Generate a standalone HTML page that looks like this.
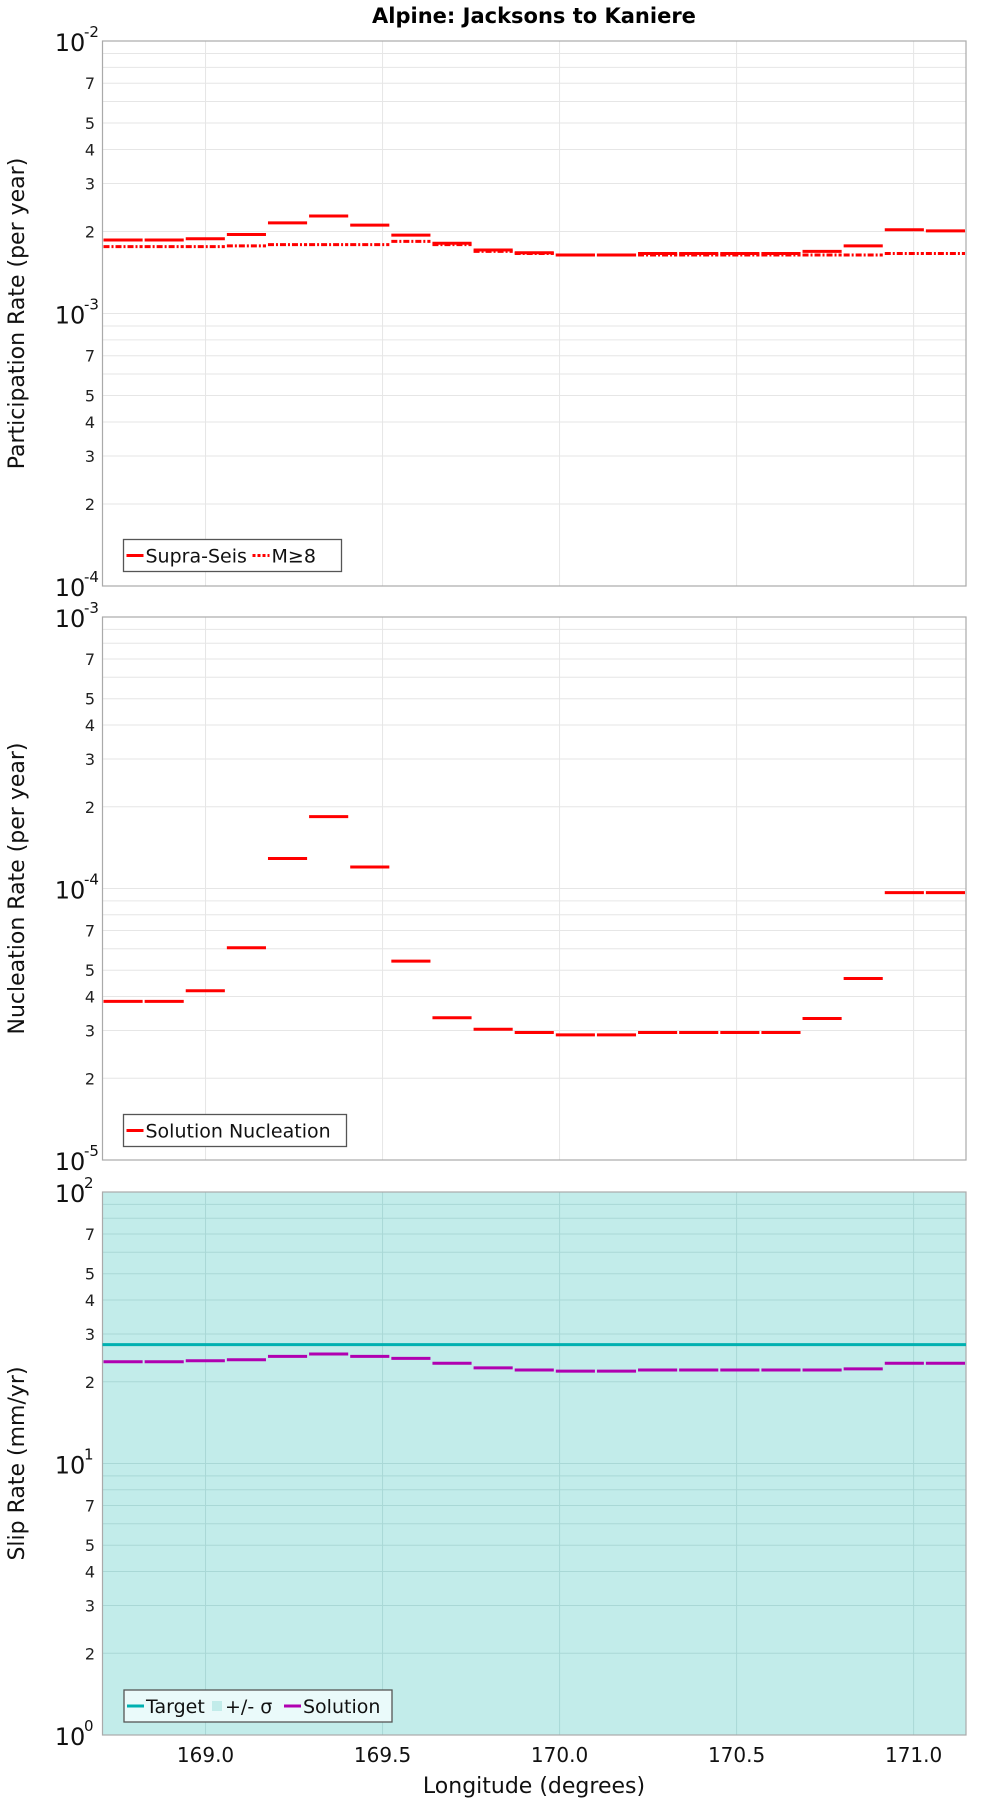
<!DOCTYPE html>
<html><head><meta charset="utf-8"><style>
body{margin:0;background:#fff;}
svg{display:block;font-family:"DejaVu Sans","Liberation Sans",sans-serif;}
</style></head><body>
<svg id="chart" width="1000" height="1800" viewBox="0 0 1000 1800" xmlns="http://www.w3.org/2000/svg">
<text x="534" y="23" text-anchor="middle" font-size="21" font-weight="bold">Alpine: Jacksons to Kaniere</text>
<g id="g"></g>
</svg>
<script>
const xTicks = [169.0, 169.5, 170.0, 170.5, 171.0];
const xTickLabels = ["169.0", "169.5", "170.0", "170.5", "171.0"];
const segCount = 21;
const supraSeis = [1.86,1.86,1.88,1.95,2.15,2.28,2.11,1.94,1.81,1.71,1.67,1.64,1.64,1.66,1.66,1.66,1.66,1.69,1.77,2.03,2.01].map(v=>v*1e-3);
const m8 = [1.76,1.76,1.76,1.77,1.79,1.79,1.79,1.84,1.79,1.69,1.66,1.64,1.64,1.64,1.64,1.64,1.64,1.64,1.64,1.66,1.66].map(v=>v*1e-3);
const nucleation = [3.84,3.84,4.2,6.05,12.9,18.4,12.0,5.4,3.34,3.03,2.95,2.89,2.89,2.95,2.95,2.95,2.95,3.32,4.66,9.66,9.66].map(v=>v*1e-5);
const slipTarget = 27.4;
const slipSolution = [23.7,23.7,23.9,24.1,24.8,25.3,24.8,24.4,23.4,22.5,22.1,21.9,21.9,22.1,22.1,22.1,22.1,22.1,22.3,23.4,23.4];
const minorLabels = [2,3,4,5,7];

const NS="http://www.w3.org/2000/svg";
const g=document.getElementById('g');
const L=102.5,R=966,X0=168.709,X1=171.148;
function sx(v){return L+(v-X0)/(X1-X0)*(R-L);}
function mk(tag,attrs,parent){const e=document.createElementNS(NS,tag);for(const k in attrs)e.setAttribute(k,attrs[k]);(parent||g).appendChild(e);return e;}

function panel(name,top,bot,eTop,eBot,bg,gridCol,yTitle,titleY){
  const sy=v=>top+(eTop-Math.log10(v))/(eTop-eBot)*(bot-top);
  const p=mk('g',{});
  
  
  const r=mk('rect',{x:L,y:top,width:R-L,height:bot-top,fill:bg,stroke:'none'},p);
  
  
  for(let e=eBot;e<eTop;e++){
    for(let m=1;m<10;m++){
      const y=sy(m*Math.pow(10,e));
      const ln=mk('line',{x1:L,x2:R,y1:y,y2:y,stroke:gridCol,'stroke-width':1},p);
      
      
      if(minorLabels.includes(m)){
        const t=mk('text',{x:95,y:y+6,'text-anchor':'end','font-size':16,fill:'#222'},p);
        t.textContent=m;
        
        
      }
    }
  }
  for(let e=eBot;e<=eTop;e++){
    const y=sy(Math.pow(10,e));
    const t=mk('text',{x:70,y:y+10,'text-anchor':'middle','font-size':24,fill:'#111'},p);
    t.textContent='10';
    
    
    const s=mk('text',{x:84,y:y-4,'font-size':15,fill:'#111'},p);
    s.textContent=String(e);
    
    
  }
  xTicks.forEach(v=>{
    const ln=mk('line',{x1:sx(v),x2:sx(v),y1:top,y2:bot,stroke:gridCol,'stroke-width':1},p);
    
    
  });
  const b=mk('rect',{x:L,y:top,width:R-L,height:bot-top,fill:'none',stroke:'#aaa','stroke-width':1.2},p);
  
  
  const yt=mk('text',{x:0,y:0,'text-anchor':'middle','font-size':22,fill:'#111',transform:`translate(${titleY},${(top+bot)/2}) rotate(-90)`},p);
  yt.textContent=yTitle;
  
  
  return {p,sy};
}
function steps(p,sy,vals,color,dash,name){
  const w=(X1-X0)/segCount;
  vals.forEach((v,i)=>{
    const a={x1:sx(X0+i*w)+1,x2:sx(X0+(i+1)*w)-1,y1:sy(v),y2:sy(v),stroke:color,'stroke-width':3};
    if(dash)a['stroke-dasharray']=dash;
    const ln=mk('line',a,p);
    
    
  });
}
function legend(p,x,y,w,items,bg){
  const lg=mk('g',{},p);
  
  
  mk('rect',{x:x,y:y,width:w,height:32,fill:bg,stroke:'#555','stroke-width':1.3},lg);
  let cx=x+3;
  items.forEach(it=>{
    const e=mk('g',{},lg);
    
    
    if(it.box){mk('rect',{x:cx,y:y+11,width:10,height:10,fill:it.color},e);cx+=13;}
    else{const a={x1:cx,x2:cx+17,y1:y+16,y2:y+16,stroke:it.color,'stroke-width':3};if(it.dash)a['stroke-dasharray']=it.dash;mk('line',a,e);cx+=19;}
    const t=mk('text',{x:cx,y:y+23,'font-size':19,fill:'#111'},e);
    t.textContent=it.label;
    cx+=it.w;
  });
}
// Panel 1
let P=panel('participation',41,586,-2,-4,'#fff','#e6e6e6','Participation Rate (per year)',24);
steps(P.p,P.sy,m8,'#ff0000','6,2,2,2','m8');
steps(P.p,P.sy,supraSeis,'#ff0000',null,'supra-seis');
legend(P.p,123.5,539.5,218,[{label:'Supra-Seis',color:'#f00',w:107},{label:'M≥8',color:'#f00',dash:'3,2',w:50}],'#fff');
// Panel 2
P=panel('nucleation',617,1160,-3,-5,'#fff','#e6e6e6','Nucleation Rate (per year)',24);
steps(P.p,P.sy,nucleation,'#ff0000',null,'nucleation');
legend(P.p,123.5,1114.5,223,[{label:'Solution Nucleation',color:'#f00',w:200}],'#fff');
// Panel 3
P=panel('slip',1192,1735,2,0,'#c2ecea','#a9d8d6','Slip Rate (mm/yr)',24);
const tl=mk('line',{x1:L,x2:R,y1:P.sy(slipTarget),y2:P.sy(slipTarget),stroke:'#00b0b0','stroke-width':3},P.p);


steps(P.p,P.sy,slipSolution,'#b000b0',null,'solution');
legend(P.p,124,1690,268,[{label:'Target',color:'#00b0b0',w:66},{label:'+/- σ',color:'#c2ecea',box:true,w:59},{label:'Solution',color:'#b000b0',w:80}],'#eafafa');
// x-axis labels
xTicks.forEach((v,i)=>{
  const t=mk('text',{x:sx(v),y:1762,'text-anchor':'middle','font-size':20,fill:'#111'});
  t.textContent=xTickLabels[i];
  
  
});
const xt=mk('text',{x:534,y:1793,'text-anchor':'middle','font-size':22,fill:'#111'});
xt.textContent='Longitude (degrees)';


</script>
</body></html>
